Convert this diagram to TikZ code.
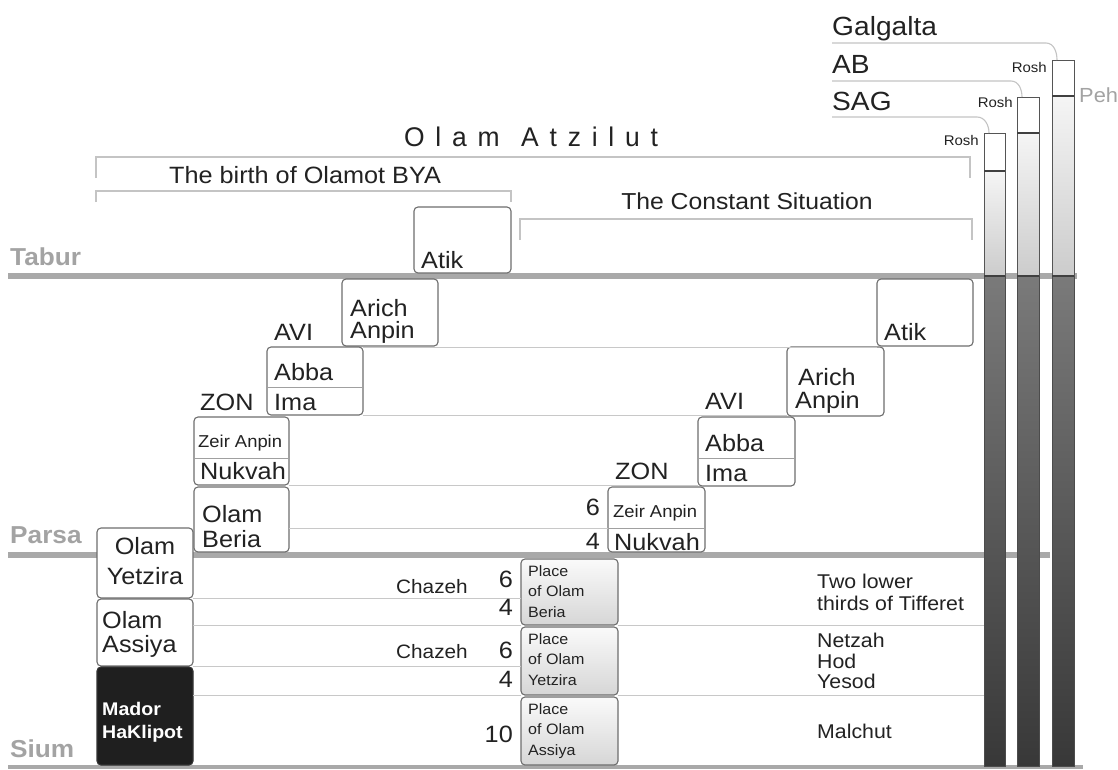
\documentclass[tikz,border=0pt]{standalone}
\usepackage{fontspec}
\setmainfont{Liberation Sans}[FakeStretch=1.07]
\newfontfamily\titlefont{Liberation Sans}[FakeStretch=0.98]
\usetikzlibrary{calc}
\newcommand\myfs[1]{\fontsize{#1}{#1}\selectfont}
\definecolor{lvl}{HTML}{C8C8C8}
\definecolor{thickc}{HTML}{A9A9A9}
\definecolor{boxline}{HTML}{6E6E6E}
\definecolor{divc}{HTML}{A0A0A0}
\definecolor{txt}{HTML}{222222}
\definecolor{lbl}{HTML}{A3A3A3}
\definecolor{colline}{HTML}{555555}
\definecolor{darktop}{HTML}{7A7A7A}
\definecolor{darkbot}{HTML}{383838}
\definecolor{brk}{HTML}{C4C4C4}
\newcommand\bx[5]{\node[box, minimum width=#4pt, minimum height=#5pt] (#1) at (#2,#3) {};}
\begin{document}
\begin{tikzpicture}[x=1pt,y=-1pt,
  box/.style={draw=boxline, line width=1.1pt, rounded corners=4pt, fill=white, inner sep=0pt, outer sep=0pt, anchor=north west},
  placebox/.style={box, top color=gray!4, bottom color=gray!32},
  madorbox/.style={box, fill=black!88, draw=black!80},
  divl/.style={draw=divc, line width=0.8pt},
  lvlline/.style={draw=lvl, line width=1pt},
  thickln/.style={draw=thickc, line width=6pt},
  brkline/.style={draw=brk, line width=1.1pt},
  refl/.style={draw=brk, line width=1.1pt},
  colpart/.style={draw=colline, line width=0.9pt, inner sep=0pt, outer sep=0pt, anchor=north west},
  roshpart/.style={colpart, fill=white},
  lightpart/.style={colpart, top color=gray!8, bottom color=gray!40},
  darkpart/.style={colpart, top color=darktop, bottom color=darkbot, draw=black!70},
  pehline/.style={draw=black!75, line width=1.6pt},
  t/.style={anchor=base west, inner sep=0pt, text=txt},
  te/.style={anchor=base east, inner sep=0pt, text=txt},
  lab/.style={anchor=base west, inner sep=0pt, text=lbl, font=\bfseries\myfs{24.5}}
]
\useasboundingbox (0,0) rectangle (1118,769);
\fill[white] (0,0) rectangle (1118,769);

% thick level lines
\coordinate (taburL) at (8,276);
\coordinate (taburR) at (1077,276);
\coordinate (parsaL) at (8,555);
\coordinate (parsaR) at (1050,555);
\coordinate (siumL) at (8,767);
\coordinate (siumR) at (1083,767);
\draw[thickln] (taburL) -- (taburR);
\draw[thickln] (parsaL) -- (parsaR);
\draw[thickln, line width=4.5pt] (siumL) -- (siumR);

% brackets
\draw[brkline] (96,178) -- (96,157) -- (970,157) -- (970,178);
\draw[brkline] (96,202) -- (96,191) -- (511,191) -- (511,202);
\draw[brkline] (520,240) -- (520,219) -- (972,219) -- (972,240);

% columns (upper parts)
\node[roshpart, minimum width=21pt, minimum height=38pt] (rosh1) at (984,133) {};
\node[lightpart, minimum width=21pt, minimum height=105pt] (light1) at (984,171) {};
\node[roshpart, minimum width=22pt, minimum height=36pt] (rosh2) at (1017,97) {};
\node[lightpart, minimum width=22pt, minimum height=143pt] (light2) at (1017,133) {};
\node[roshpart, minimum width=22pt, minimum height=36pt] (rosh3) at (1052,60) {};
\node[lightpart, minimum width=22pt, minimum height=180pt] (light3) at (1052,96) {};

% boxes
\bx{atikL}{414}{207}{97}{66}
\bx{arichL}{342}{279}{96}{67}
\bx{abbaL}{267}{347}{96}{68}
\bx{zaL}{194}{417}{95}{68}
\bx{beriaL}{194}{487}{95}{65}
\bx{atikR}{877}{279}{96}{67}
\bx{arichR}{787}{347}{97}{69}
\bx{abbaR}{698}{417}{97}{69}
\bx{zaR}{608}{487}{97}{65}
\node[placebox, minimum width=97pt, minimum height=66pt] (placeB) at (521,559) {};
\node[placebox, minimum width=97pt, minimum height=68pt] (placeY) at (521,627) {};
\node[placebox, minimum width=97pt, minimum height=68pt] (placeA) at (521,697) {};

% dark column parts
\node[darkpart, minimum width=21pt, minimum height=490pt] (dark1) at (984,276) {};
\node[darkpart, minimum width=22pt, minimum height=490pt] (dark2) at (1017,276) {};
\node[darkpart, minimum width=22pt, minimum height=490pt] (dark3) at (1052,276) {};

% thin level lines
\draw[lvlline] (abbaL.north east) -- (abbaL.north east -| atikR.west);
\draw[lvlline] (abbaL.south east) -- (abbaL.south east -| arichR.west);
\draw[lvlline] (zaL.south east) -- (zaL.south east -| abbaR.west);
\coordinate (zaRdiv) at ([yshift=-41pt]zaR.north west);
\draw[lvlline] (zaRdiv -| beriaL.east) -- (zaRdiv);
\bx{yetziraL}{97}{528}{96}{70}
\bx{assiyaL}{97}{599}{96}{67}
\node[madorbox, minimum width=96pt, minimum height=98pt] (mador) at (97,667) {};
\draw[lvlline] (yetziraL.south east) -- (yetziraL.south east -| placeB.west);
\draw[lvlline] (placeB.south west -| assiyaL.east) -- (placeB.south west);
\draw[lvlline] (assiyaL.south east) -- (assiyaL.south east -| placeY.west);
\draw[lvlline] (placeY.south west -| mador.east) -- (placeY.south west);
\draw[lvlline] (placeB.south east) -- (placeB.south east -| dark1.west);
\draw[lvlline] (placeY.south east) -- (placeY.south east -| dark1.west);

% dividers inside boxes
\draw[divl] ([yshift=-40pt]abbaL.north west) -- ([yshift=-40pt]abbaL.north east);
\draw[divl] ([yshift=-41pt]zaL.north west) -- ([yshift=-41pt]zaL.north east);
\draw[divl] ([yshift=-41pt]abbaR.north west) -- ([yshift=-41pt]abbaR.north east);
\draw[divl] (zaRdiv) -- ([yshift=-41pt]zaR.north east);

% Peh lines
\draw[pehline] (light1.north west) -- (light1.north east);
\draw[pehline] (light2.north west) -- (light2.north east);
\draw[pehline] (light3.north west) -- (light3.north east);
\draw[pehline, line width=1.2pt] (dark1.north west) -- (dark1.north east);
\draw[pehline, line width=1.2pt] (dark2.north west) -- (dark2.north east);
\draw[pehline, line width=1.2pt] (dark3.north west) -- (dark3.north east);

% partzufim headings
\node[t, font=\myfs{26.3}] (galg) at (832,35) {Galgalta};
\node[t, font=\myfs{26.3}] (ab) at (832,73) {AB};
\node[t, font=\myfs{26.3}] (sag) at (832,110) {SAG};
\coordinate (gl) at (832,43);
\coordinate (al) at (832,81);
\coordinate (sl) at (832,117);
\draw[refl] (gl) -- (1046,43) to[out=0,in=90] ([xshift=5pt]rosh3.north west);
\draw[refl] (al) -- (1011,81) to[out=0,in=90] ([xshift=5pt]rosh2.north west);
\draw[refl] (sl) -- (977,117) to[out=0,in=90] ([xshift=5pt]rosh1.north west);
\node[te, font=\myfs{14}] (r3) at (1047,72) {Rosh};
\node[te, font=\myfs{14}] (r2) at (1013,107) {Rosh};
\node[te, font=\myfs{14}] (r1) at (979,145) {Rosh};
\node[t, font=\myfs{20.4}, text=lbl] (peh) at (1079,102) {Peh};

% titles
\node[anchor=base, inner sep=0pt, text=txt] (atz) at (531,146) {\titlefont\myfs{27}\hbox to 254pt{O\hfil l\hfil a\hfil m\hfil\hfil A\hfil t\hfil z\hfil i\hfil l\hfil u\hfil t}};
\node[anchor=base, inner sep=0pt, text=txt, font=\myfs{23.6}] (bya) at (305,183) {The birth of Olamot BYA};
\node[anchor=base, inner sep=0pt, text=txt, font=\myfs{23.1}] (const) at (747,209) {The Constant Situation};

% level labels
\node[lab] (tabur) at (10,265) {Tabur};
\node[lab] (parsa) at (10,543) {Parsa};
\node[lab] (sium) at (10,757) {Sium};

% staircase texts
\begin{scope}[font=\myfs{23.6}]
\node[t] (tAtikL) at (421,268) {Atik};
\node[t] (tArL1) at (350,316) {Arich};
\node[t] (tArL2) at (350,338) {Anpin};
\node[t] (tAviL) at (274,340) {AVI};
\node[t] (tAbbaL) at (274,380) {Abba};
\node[t] (tImaL) at (274,410) {Ima};
\node[t] (tZonL) at (200,410) {ZON};
\node[t] (tNukL) at (200,479) {Nukvah};
\node[t] (tBerL1) at (202,522) {Olam};
\node[t] (tBerL2) at (202,547) {Beria};
\node[anchor=base, inner sep=0pt, text=txt] (tYetL1) at (yetziraL.center |- 0,554) {Olam};
\node[anchor=base, inner sep=0pt, text=txt] (tYetL2) at (yetziraL.center |- 0,584) {Yetzira};
\node[t] (tAsL1) at (102,628) {Olam};
\node[t] (tAsL2) at (102,652) {Assiya};
\node[t] (tAtikR) at (884,340) {Atik};
\node[t] (tArR1) at (798,385) {Arich};
\node[t] (tArR2) at (795,408) {Anpin};
\node[t] (tAviR) at (705,409) {AVI};
\node[t] (tAbbaR) at (705,451) {Abba};
\node[t] (tImaR) at (705,481) {Ima};
\node[t] (tZonR) at (615,479) {ZON};
\node[t] (tNukR) at (614,550) {Nukvah};
\node[te] (n6a) at (600,515) {6};
\node[te] (n4a) at (600,549) {4};
\node[te] (n6b) at (513,587) {6};
\node[te] (n4b) at (513,615) {4};
\node[te] (n6c) at (513,658) {6};
\node[te] (n4c) at (513,687) {4};
\node[te] (n10) at (513,742) {10};
\end{scope}
\node[t, font=\myfs{17.2}] (tZaL) at (198,447) {Zeir Anpin};
\node[t, font=\myfs{17.2}] (tZaR) at (613,517) {Zeir Anpin};
\node[t, font=\myfs{19.4}] (ch1) at (396,593) {Chazeh};
\node[t, font=\myfs{19.4}] (ch2) at (396,658) {Chazeh};
\node[t, font=\bfseries\myfs{18.3}, text=white] (md1) at (102,715) {Mador};
\node[t, font=\bfseries\myfs{18.3}, text=white] (md2) at (102,738) {HaKlipot};

% place texts
\begin{scope}[font=\myfs{15}]
\node[t] (pb1) at (528,576) {Place};
\node[t] (pb2) at (528,596) {of Olam};
\node[t] (pb3) at (528,617) {Beria};
\node[t] (py1) at (528,644) {Place};
\node[t] (py2) at (528,664) {of Olam};
\node[t] (py3) at (528,685) {Yetzira};
\node[t] (pa1) at (528,714) {Place};
\node[t] (pa2) at (528,734) {of Olam};
\node[t] (pa3) at (528,755) {Assiya};
\end{scope}

% sefirot labels
\begin{scope}[font=\myfs{19.9}]
\node[t] (s1) at (817,588) {Two lower};
\node[t] (s2) at (817,610) {thirds of Tifferet};
\node[t] (s3) at (817,647) {Netzah};
\node[t] (s4) at (817,668) {Hod};
\node[t] (s5) at (817,688) {Yesod};
\node[t] (s6) at (817,738) {Malchut};
\end{scope}
\end{tikzpicture}
\end{document}
